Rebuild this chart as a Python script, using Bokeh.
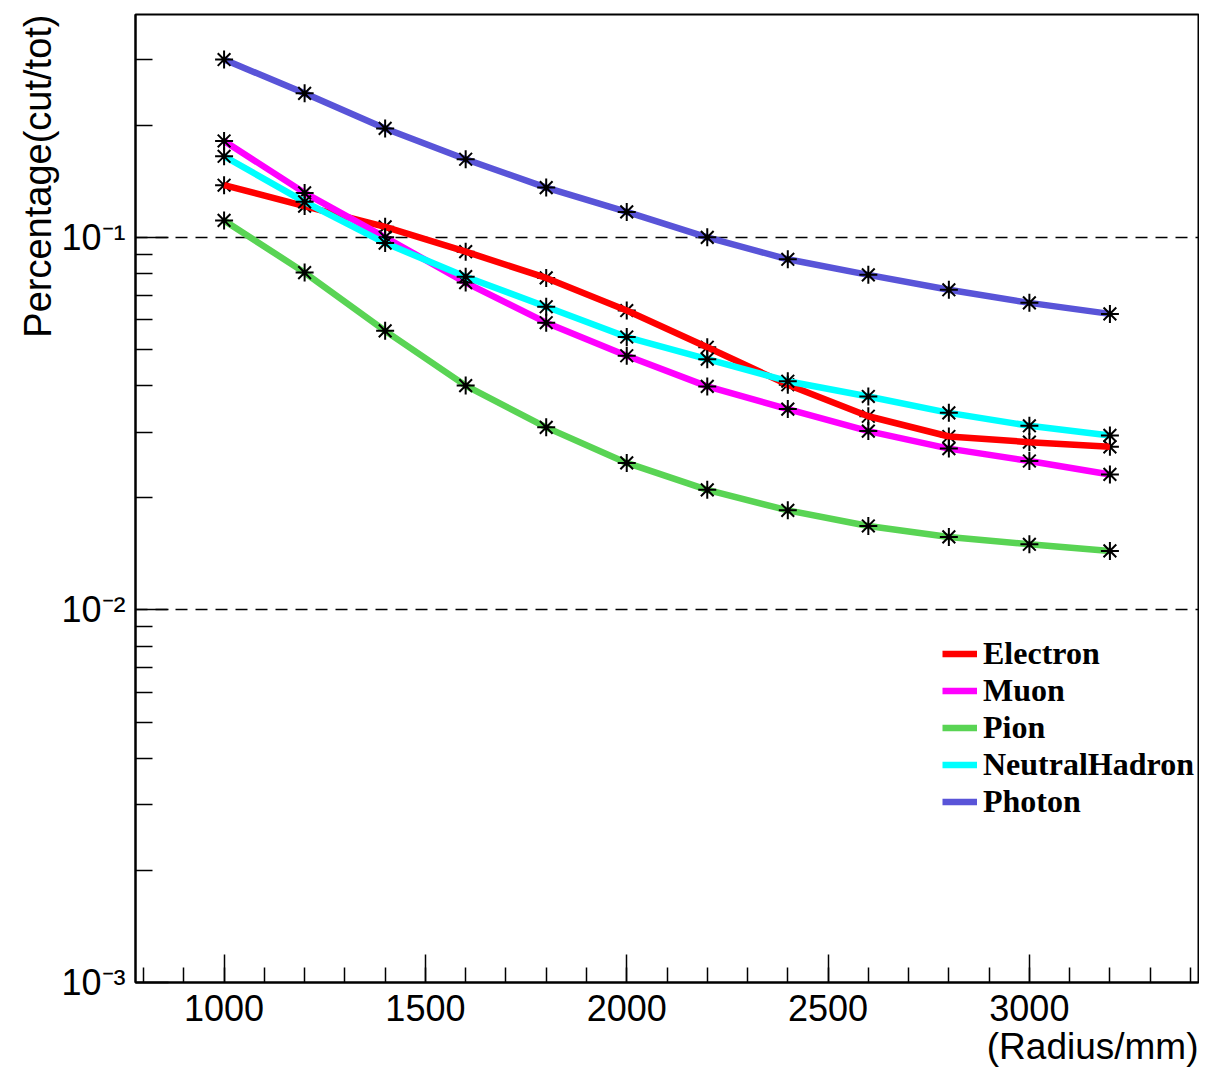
from bokeh.plotting import figure
from bokeh.models import Range1d, FixedTicker, Title, Legend, LegendItem
from bokeh.embed import file_html
from bokeh.resources import INLINE

# ---- data ----
radius = [1000, 1200, 1400, 1600, 1800, 2000, 2200, 2400, 2600, 2800, 3000, 3200]
electron = [0.138, 0.1213, 0.1067, 0.0915, 0.0778, 0.0636, 0.0507, 0.0402, 0.0331, 0.0292, 0.0282, 0.0274]
muon = [0.1814, 0.1316, 0.100, 0.0756, 0.0590, 0.0481, 0.0398, 0.0346, 0.0302, 0.0271, 0.0251, 0.0231]
pion = [0.111, 0.0804, 0.0561, 0.0400, 0.0309, 0.0248, 0.0210, 0.0185, 0.0168, 0.0157, 0.0150, 0.0144]
neutral_hadron = [0.165, 0.1245, 0.0965, 0.0784, 0.0651, 0.054, 0.0471, 0.0411, 0.0374, 0.0338, 0.0312, 0.0294]
photon = [0.300, 0.2435, 0.196, 0.162, 0.136, 0.117, 0.100, 0.0873, 0.0793, 0.0723, 0.0667, 0.0623]

series_names = ["Electron", "Muon", "Pion", "NeutralHadron", "Photon"]
series_values = [electron, muon, pion, neutral_hadron, photon]
series_colors = ["#ff0000", "#ff00ff", "#59d454", "#00ffff", "#5954d8"]

x_major_ticks = [1000, 1500, 2000, 2500, 3000]
x_minor_ticks = list(range(800, 3401, 100))
y_major_ticks = [0.001, 0.01, 0.1]
y_major_labels = ["10\u207b\u00b3", "10\u207b\u00b2", "10\u207b\u00b9"]
y_minor_ticks = [m * d for d in (0.001, 0.01, 0.1) for m in range(2, 10) if m * d < 0.39]

x_title = "(Radius/mm)"
y_title = "Percentage(cut/tot)"

FONT = "Liberation Sans"

p = figure(width=1199, height=1070, output_backend="svg", toolbar_location=None,
           y_axis_type="log",
           x_range=Range1d(780, 3420), y_range=Range1d(0.001, 0.3963),
           min_border_left=135, min_border_right=1, min_border_top=14, min_border_bottom=88)
p.background_fill_color = "white"
p.border_fill_color = "white"
p.outline_line_color = "black"
p.outline_line_width = 2

# axes
p.xaxis.ticker = FixedTicker(ticks=x_major_ticks, minor_ticks=x_minor_ticks)
p.yaxis.ticker = FixedTicker(ticks=y_major_ticks, minor_ticks=y_minor_ticks)
p.yaxis.major_label_overrides = {t: l for t, l in zip(y_major_ticks, y_major_labels)}
for ax in (p.xaxis[0], p.yaxis[0]):
    ax.axis_line_color = "black"
    ax.axis_line_width = 2
    ax.major_tick_line_color = "black"
    ax.minor_tick_line_color = "black"
    ax.major_tick_line_width = 1.5
    ax.minor_tick_line_width = 1.5
    ax.major_tick_out = 0
    ax.minor_tick_out = 0
    ax.major_label_text_font = FONT
    ax.major_label_text_font_size = "36px"
    ax.major_label_text_color = "black"
    ax.axis_label = None
p.xaxis.major_tick_in = 28
p.xaxis.minor_tick_in = 15
p.yaxis.major_tick_in = 33
p.yaxis.minor_tick_in = 17
p.xaxis.major_label_standoff = 12
p.yaxis.major_label_standoff = 10

p.xgrid.visible = False
p.ygrid.grid_line_color = "black"
p.ygrid.grid_line_dash = "12 8"
p.ygrid.grid_line_width = 1.5

# series
items = []
for name, vals, col in zip(series_names, series_values, series_colors):
    if name == "Electron":
        p.scatter(radius, vals, marker="asterisk", size=18, line_color="black", line_width=2)
        r = p.line(radius, vals, line_color=col, line_width=6.5)
    else:
        r = p.line(radius, vals, line_color=col, line_width=6.5)
        p.scatter(radius, vals, marker="asterisk", size=18, line_color="black", line_width=2)
    items.append(LegendItem(label=name, renderers=[r]))

legend = Legend(items=items, location=(807, 162), orientation="vertical",
                padding=0, margin=0, spacing=0,
                glyph_width=35, glyph_height=37, label_height=37, label_standoff=6,
                label_text_font="Liberation Serif", label_text_font_style="bold",
                label_text_font_size="32px", label_text_color="black",
                border_line_color=None, background_fill_color="white",
                background_fill_alpha=0.0)
p.add_layout(legend)

# axis titles (ROOT style: right/top aligned)
p.add_layout(Title(text=x_title, align="right", text_font=FONT, text_font_size="37px",
                   text_font_style="normal", text_color="black", standoff=0), "below")
p.add_layout(Title(text=y_title, align="right", text_font=FONT, text_font_size="38px",
                   text_font_style="normal", text_color="black", standoff=0), "left")

open("out.html", "w").write(file_html(p, INLINE))
